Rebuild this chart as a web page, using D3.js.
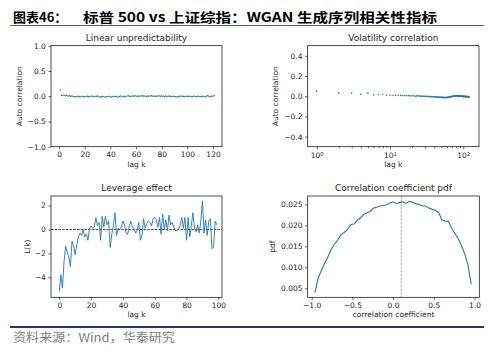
<!DOCTYPE html>
<html>
<head>
<meta charset="utf-8">
<script src="https://cdn.jsdelivr.net/npm/d3@7"></script>
<style>
body { margin: 0; background: #fff; }
text { font-family: "DejaVu Sans", sans-serif; fill: #262626; }
</style>
</head>
<body>
<div id="chart"></div>
<script>
// linear unpredictability: autocorrelation of returns, lag 1..121
var linValues = [0.12,
  0.02, 0.015, 0.02, 0.01, 0.02, 0.005, 0.01, 0.0, 0.005,
  -0.005, -0.01, -0.005, -0.01, 0.0, -0.005, -0.01, 0.0, -0.005, -0.01,
  -0.005, 0.0, -0.01, -0.005, 0.005, 0.0, -0.01, -0.005, 0.0, 0.005,
  -0.01, -0.015, -0.01, -0.005, -0.01, -0.015, -0.005, -0.01, 0.0, -0.01,
  -0.015, -0.005, -0.01, 0.0, -0.01, -0.015, -0.005, 0.005, -0.01, -0.005,
  0.0, -0.01, 0.005, 0.01, 0.0, -0.005, 0.005, 0.0, 0.01, 0.005,
  -0.005, 0.005, 0.0, 0.005, 0.01, 0.0, 0.005, -0.005, 0.005, 0.0,
  0.005, 0.01, 0.0, 0.005, -0.005, 0.0, 0.005, 0.01, 0.0, 0.005,
  0.0, -0.005, 0.005, -0.01, 0.0, 0.005, -0.005, -0.01, 0.0, -0.005,
  -0.01, -0.015, -0.005, 0.0, 0.005, -0.005, 0.0, -0.01, -0.005, 0.0,
  -0.005, 0.0, -0.01, -0.005, 0.0, -0.005, -0.01, 0.0, -0.005, -0.01,
  -0.005, 0.0, -0.005, -0.01, 0.005, 0.01, -0.005, -0.01, 0.0, 0.005, 0.01];

// volatility correlation: autocorrelation of |returns|, lag 1..120
var volValues = [0.05, 0.03, 0.03, 0.02, 0.03, 0.015, 0.015, 0.02, 0.01, 0.01,
  0.01, 0.008, 0.01, 0.008, 0.006, 0.007, 0.004, 0.006, 0.003, 0.005,
  0.004, 0.0, 0.003, 0.002, 0.004, -0.002, 0.001, -0.001, 0.0, -0.002,
  -0.001, -0.003, -0.002, -0.004, -0.003, -0.005, -0.004, -0.006, -0.005, -0.007,
  -0.006, -0.008, -0.007, -0.009, -0.008, -0.01, -0.009, -0.011, -0.01, -0.012,
  -0.011, -0.013, -0.012, -0.014, -0.012, -0.015, -0.013, -0.014, -0.012, -0.013,
  -0.011, -0.012, -0.009, -0.01, -0.007, -0.008, -0.005, -0.006, -0.003, -0.004,
  -0.002, 0.0, -0.001, 0.002, 0.0, 0.003, 0.001, 0.004, 0.002, 0.005,
  0.003, 0.006, 0.004, 0.002, 0.005, 0.003, 0.001, 0.004, 0.002, 0.0,
  0.003, 0.001, -0.001, 0.002, 0.0, -0.002, 0.001, -0.003, -0.001, -0.004,
  -0.002, -0.005, -0.003, -0.001, -0.004, -0.002, -0.006, -0.003, -0.005, -0.002,
  -0.004, -0.006, -0.003, -0.005, -0.007, -0.004, -0.006, -0.003, -0.005, -0.006];

// leverage effect L(k), lag 0..99
var levValues = [-5.2, -3.8, -4.9, -2.7, -1.4, -1.9, -2.3, -3.1, -1.0, -1.4,
  -2.1, -1.3, -0.6, -0.3, -0.5, 0.0, -0.6, -0.4, -0.9, 0.1,
  0.3, 0.1, 0.2, 1.0, 0.3, 0.6, -0.9, 1.1, 0.2, 1.1,
  0.4, 0.7, -1.5, -0.4, 0.3, 1.4, -0.5, 0.1, 0.0, 0.2,
  0.7, 0.4, -0.3, -0.4, 0.3, 0.7, 0.2, 0.1, -0.3, -0.1,
  0.6, -0.9, -0.5, 0.9, 0.1, 0.5, 0.7, 0.6, 0.3, 0.9,
  1.0, 0.8, 0.2, 1.0, -0.4, 1.3, 0.0, 0.8, -0.1, 1.2,
  0.4, 0.6, 0.2, -0.1, -0.1, 0.1, 0.3, 1.0, 0.1, 1.0,
  -0.9, 1.0, -0.6, 0.3, 1.4, 0.1, -0.2, 0.4, -0.3, 0.7,
  2.4, -0.3, 0.8, -0.5, 0.7, 0.9, -1.6, -1.5, 0.7, 0.4];

// correlation coefficient pdf
var corrX = [-0.96, -0.92, -0.88, -0.84, -0.80, -0.76, -0.72, -0.68, -0.64, -0.60,
  -0.56, -0.52, -0.48, -0.44, -0.40, -0.36, -0.32, -0.28, -0.24, -0.20,
  -0.16, -0.12, -0.08, -0.04, 0.0, 0.04, 0.08, 0.12, 0.16, 0.20,
  0.24, 0.28, 0.32, 0.36, 0.40, 0.44, 0.48, 0.52, 0.56, 0.60,
  0.64, 0.68, 0.72, 0.76, 0.80, 0.84, 0.88, 0.92, 0.96];
var corrPdf = [0.0040, 0.0075, 0.0093, 0.0110, 0.0125, 0.0143, 0.0155, 0.0165, 0.0178, 0.0183,
  0.0190, 0.0202, 0.0203, 0.0212, 0.0218, 0.0226, 0.0230, 0.0233, 0.0241, 0.0243,
  0.0246, 0.0247, 0.0249, 0.0253, 0.0256, 0.0252, 0.0254, 0.0256, 0.0252, 0.0257,
  0.0255, 0.0251, 0.0250, 0.0246, 0.0246, 0.0241, 0.0238, 0.0236, 0.0230, 0.0213,
  0.0210, 0.0209, 0.0193, 0.0180, 0.0168, 0.0152, 0.0132, 0.0105, 0.0060];
var corrMean = 0.1;

var linTicksX = [0, 20, 40, 60, 80, 100, 120];
var linTicksY = [-1.0, -0.5, 0.0, 0.5, 1.0];
var volTicksY = [-0.4, -0.2, 0.0, 0.2, 0.4];
var volMajor = [1, 10, 100];
var volMinor = [2, 3, 4, 5, 6, 7, 8, 9, 20, 30, 40, 50, 60, 70, 80, 90];
var levTicksX = [0, 20, 40, 60, 80, 100];
var levTicksY = [-4, -2, 0, 2];
var corrTicksX = [-1.0, -0.5, 0.0, 0.5, 1.0];
var corrTicksY = [0.005, 0.010, 0.015, 0.020, 0.025];

var blue = "#1f77b4";
var fs = 7.5;
var tick = 2.6;

var svg = d3.select("#chart").append("svg")
    .attr("width", 494)
    .attr("height", 352);

// header
svg.append("text")
    .attr("x", 13).attr("y", 22)
    .style("font-family", "'Noto Sans CJK SC', sans-serif")
    .style("font-weight", "bold")
    .style("font-size", "13px")
    .style("fill", "#000")
    .text("图表46：");
svg.append("text")
    .attr("x", 83).attr("y", 22)
    .attr("textLength", 354)
    .attr("lengthAdjust", "spacingAndGlyphs")
    .style("font-family", "'Noto Sans CJK SC', sans-serif")
    .style("font-weight", "bold")
    .style("font-size", "13px")
    .style("fill", "#000")
    .text("标普 500 vs 上证综指：WGAN 生成序列相关性指标");
svg.append("line")
    .attr("x1", 10).attr("x2", 484).attr("y1", 25.5).attr("y2", 25.5)
    .attr("stroke", "#333").attr("stroke-width", 0.8);

// footer
svg.append("line")
    .attr("x1", 10).attr("x2", 484).attr("y1", 327).attr("y2", 327)
    .attr("stroke", "#1f3a6e").attr("stroke-width", 2);
svg.append("text")
    .attr("x", 13).attr("y", 342)
    .attr("textLength", 162)
    .attr("lengthAdjust", "spacingAndGlyphs")
    .style("font-family", "'Noto Sans CJK SC', sans-serif")
    .style("font-size", "12px")
    .style("fill", "#7f7f7f")
    .text("资料来源：Wind，华泰研究");

function styleAxis(g) {
    g.attr("font-size", fs).attr("color", "#000");
    g.select(".domain").remove();
    g.selectAll(".tick line").attr("stroke-width", 0.6);
}

function panel(box, x, y, opt) {
    var g = svg.append("g");
    g.append("g")
        .attr("transform", "translate(0," + box.b + ")")
        .call(opt.xAxis)
        .call(styleAxis);
    g.append("g")
        .attr("transform", "translate(" + box.l + ",0)")
        .call(d3.axisLeft(y).tickValues(opt.yTicks).tickFormat(opt.yFormat)
            .tickSize(tick).tickPadding(tick))
        .call(styleAxis);
    g.append("rect")
        .attr("x", box.l).attr("y", box.t)
        .attr("width", box.r - box.l).attr("height", box.b - box.t)
        .attr("fill", "none").attr("stroke", "#000").attr("stroke-width", 0.7);
    g.append("text")
        .attr("x", (box.l + box.r) / 2).attr("y", box.t - 5)
        .attr("text-anchor", "middle")
        .style("font-size", "9px")
        .text(opt.title);
    g.append("text")
        .attr("x", (box.l + box.r) / 2).attr("y", box.b + 20)
        .attr("text-anchor", "middle")
        .style("font-size", fs + "px")
        .text(opt.xLabel);
    g.append("text")
        .attr("transform", "translate(" + opt.yLabelX + "," + ((box.t + box.b) / 2) + ") rotate(-90)")
        .attr("text-anchor", "middle")
        .style("font-size", fs + "px")
        .text(opt.yLabel);
    return g;
}

//////////// Linear unpredictability ////////////
var b1 = {l: 51, r: 222, t: 45.7, b: 146.7};
var x1 = d3.scaleLinear().domain([-6.3, 127]).range([b1.l, b1.r]);
var y1 = d3.scaleLinear().domain([-1, 1]).range([b1.b, b1.t]);
var p1 = panel(b1, x1, y1, {
    xAxis: d3.axisBottom(x1).tickValues(linTicksX).tickSize(tick).tickPadding(tick),
    yTicks: linTicksY, yFormat: d3.format(".1f"),
    title: "Linear unpredictability", xLabel: "lag k",
    yLabel: "Auto correlation", yLabelX: 21.5
});
p1.selectAll("circle")
    .data(linValues)
    .enter()
    .append("circle")
    .attr("cx", function(d, i) { return x1(i + 1); })
    .attr("cy", function(d) { return y1(d); })
    .attr("r", 0.75)
    .attr("fill", blue);

//////////// Volatility correlation ////////////
var b2 = {l: 307.7, r: 479, t: 45.7, b: 146.7};
var x2 = d3.scaleLog().domain([0.754, 164]).range([b2.l, b2.r]);
var y2 = d3.scaleLinear().domain([-0.5, 0.5]).range([b2.b, b2.t]);
var p2 = panel(b2, x2, y2, {
    xAxis: d3.axisBottom(x2).tickValues(volMajor).tickFormat(function() { return "10"; })
        .tickSize(tick).tickPadding(tick + 1),
    yTicks: volTicksY, yFormat: d3.format(".1f"),
    title: "Volatility correlation", xLabel: "lag k",
    yLabel: "Auto correlation", yLabelX: 278
});
p2.select("g").selectAll(".tick text")
    .each(function(d) {
        d3.select(this).append("tspan")
            .attr("dy", "-0.45em")
            .style("font-size", "5.3px")
            .text(Math.round(Math.log10(d)));
    });
p2.append("g")
    .attr("transform", "translate(0," + b2.b + ")")
    .call(d3.axisBottom(x2).tickValues(volMinor).tickFormat("").tickSize(1.5))
    .call(styleAxis);
p2.selectAll("circle")
    .data(volValues)
    .enter()
    .append("circle")
    .attr("cx", function(d, i) { return x2(i + 1); })
    .attr("cy", function(d) { return y2(d); })
    .attr("r", 0.8)
    .attr("fill", blue);

//////////// Leverage effect ////////////
var b3 = {l: 51, r: 222, t: 196, b: 297.3};
var x3 = d3.scaleLinear().domain([-5.2, 102.3]).range([b3.l, b3.r]);
var y3 = d3.scaleLinear().domain([-5.67, 2.8]).range([b3.b, b3.t]);
var p3 = panel(b3, x3, y3, {
    xAxis: d3.axisBottom(x3).tickValues(levTicksX).tickSize(tick).tickPadding(tick),
    yTicks: levTicksY, yFormat: d3.format("d"),
    title: "Leverage effect", xLabel: "lag k",
    yLabel: "L(k)", yLabelX: 30
});
p3.append("line")
    .attr("x1", b3.l).attr("x2", b3.r)
    .attr("y1", y3(0)).attr("y2", y3(0))
    .attr("stroke", "#000").attr("stroke-width", 0.7)
    .attr("stroke-dasharray", "2.6,1.1");
p3.append("path")
    .datum(levValues)
    .attr("fill", "none")
    .attr("stroke", blue)
    .attr("stroke-width", 0.9)
    .attr("d", d3.line()
        .x(function(d, i) { return x3(i); })
        .y(function(d) { return y3(d); }));

//////////// Correlation coefficient pdf ////////////
var b4 = {l: 307.7, r: 479.3, t: 196, b: 297.3};
var x4 = d3.scaleLinear().domain([-1.049, 1.059]).range([b4.l, b4.r]);
var y4 = d3.scaleLinear().domain([0.00286, 0.02698]).range([b4.b, b4.t]);
var p4 = panel(b4, x4, y4, {
    xAxis: d3.axisBottom(x4).tickValues(corrTicksX).tickFormat(d3.format(".1f"))
        .tickSize(tick).tickPadding(tick),
    yTicks: corrTicksY, yFormat: d3.format(".3f"),
    title: "Correlation coefficient pdf", xLabel: "correlation coefficient",
    yLabel: "pdf", yLabelX: 274.5
});
p4.append("line")
    .attr("x1", x4(corrMean)).attr("x2", x4(corrMean))
    .attr("y1", b4.t).attr("y2", b4.b)
    .attr("stroke", "#808080").attr("stroke-width", 0.7)
    .attr("stroke-dasharray", "2.6,1.1");
p4.append("path")
    .datum(corrPdf)
    .attr("fill", "none")
    .attr("stroke", blue)
    .attr("stroke-width", 1.1)
    .attr("d", d3.line()
        .x(function(d, i) { return x4(corrX[i]); })
        .y(function(d) { return y4(d); }));
</script>
</body>
</html>
